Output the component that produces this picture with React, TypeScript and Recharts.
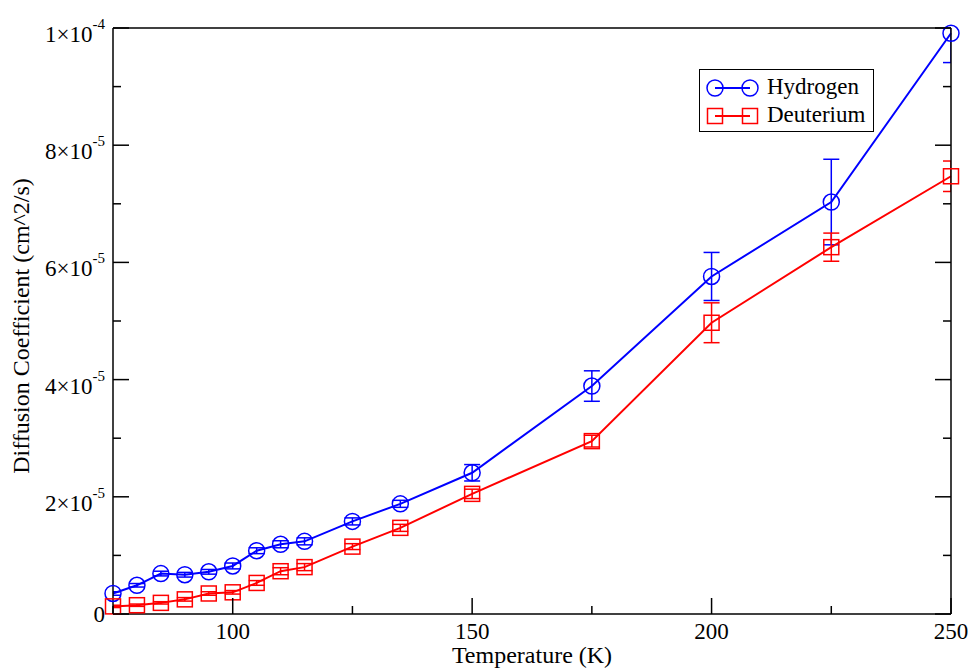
import React from 'react'
import { LineChart, Line, XAxis, YAxis, ErrorBar, Legend } from 'recharts'

// Temperature (K)
const temperatures = [75, 80, 85, 90, 95, 100, 105, 110, 115, 125, 135, 150, 175, 200, 225, 250]
// Diffusion coefficients in units of 1e-6 cm^2/s
const hydrogen = [3.5, 4.9, 6.9, 6.7, 7.2, 8.2, 10.8, 11.9, 12.4, 15.8, 18.8, 24.1, 38.9, 57.6, 70.3, 99.1]
const hydrogenErr = [0.3, 0.3, 0.4, 0.4, 0.4, 0.5, 0.5, 0.6, 0.6, 0.6, 0.6, 1.4, 2.6, 4.1, 7.3, 5.0]
const deuterium = [1.3, 1.5, 1.9, 2.5, 3.5, 3.7, 5.3, 7.3, 8.0, 11.5, 14.7, 20.5, 29.5, 49.7, 62.6, 74.7]
const deuteriumErr = [0.2, 0.2, 0.2, 0.3, 0.3, 0.3, 0.4, 0.6, 0.6, 0.5, 0.6, 0.8, 1.0, 3.4, 2.4, 2.6]

const xTicks = [75, 100, 125, 150, 175, 200, 225, 250]
const yTicks = [0, 10, 20, 30, 40, 50, 60, 70, 80, 90, 100]

const data = temperatures.map((t, i) => ({
  t,
  hydrogen: hydrogen[i],
  hydrogenErr: hydrogenErr[i],
  deuterium: deuterium[i],
  deuteriumErr: deuteriumErr[i],
}))

const W = 973
const H = 670
const MARGIN = { top: 27, right: 21, bottom: 55, left: 112 }
// plot box (axes are 1px thick boxes)
const PLOT = {
  x: MARGIN.left + 1,
  y: MARGIN.top + 1,
  width: W - MARGIN.left - MARGIN.right - 2,
  height: H - MARGIN.top - MARGIN.bottom - 2,
}

const FONT = '"Liberation Serif", "Times New Roman", serif'
const BLUE = '#0000ff'
const RED = '#ff0000'

const BottomTick = (props: any) => {
  const { x, y, payload } = props
  const major = payload.value % 50 === 0
  return (
    <g>
      <line x1={x} y1={y} x2={x} y2={y - (major ? 16 : 8)} stroke="#000" strokeWidth={1.5} />
      {major && (
        <text x={x} y={y + 25} textAnchor="middle" fontFamily={FONT} fontSize={23} fill="#000">
          {payload.value}
        </text>
      )}
    </g>
  )
}

const TopTick = (props: any) => {
  const { x, y, payload } = props
  const major = payload.value % 50 === 0
  return <line x1={x} y1={y} x2={x} y2={y + (major ? 16 : 8)} stroke="#000" strokeWidth={1.5} />
}

const LeftTick = (props: any) => {
  const { x, y, payload } = props
  const v = payload.value
  const major = v % 20 === 0
  let label: React.ReactNode = null
  if (major) {
    if (v === 0) {
      label = (
        <text x={x - 8} y={y + 8} textAnchor="end" fontFamily={FONT} fontSize={23} fill="#000">0</text>
      )
    } else {
      const mant = v === 100 ? 1 : v / 10
      const exp = v === 100 ? '-4' : '-5'
      label = (
        <text x={x - 8} y={y + 14} textAnchor="end" fontFamily={FONT} fontSize={23} fill="#000">
          <tspan>{mant}×10</tspan>
          <tspan dy={-13} fontSize={15}>{exp}</tspan>
        </text>
      )
    }
  }
  return (
    <g>
      <line x1={x} y1={y} x2={x + (major ? 16 : 8)} y2={y} stroke="#000" strokeWidth={1.5} />
      {label}
    </g>
  )
}

const RightTick = (props: any) => {
  const { x, y, payload } = props
  const major = payload.value % 20 === 0
  return <line x1={x} y1={y} x2={x - (major ? 16 : 8)} y2={y} stroke="#000" strokeWidth={1.5} />
}

const circleDot = (props: any) => {
  const { cx, cy, index } = props
  if (cx == null || cy == null) return <g key={`h-${index}`} />
  return <circle key={`h-${index}`} cx={cx} cy={cy} r={8} fill="none" stroke={BLUE} strokeWidth={1.5} />
}

const squareDot = (props: any) => {
  const { cx, cy, index } = props
  if (cx == null || cy == null) return <g key={`d-${index}`} />
  return (
    <rect key={`d-${index}`} x={cx - 7.5} y={cy - 7.5} width={15} height={15} fill="none" stroke={RED} strokeWidth={1.5} />
  )
}

const renderLegend = (props: any) => {
  const seen = new Set<string>()
  const items = (props.payload ?? [])
    .filter((it: any) => it.type !== 'none' && !seen.has(it.dataKey) && seen.add(it.dataKey))
    .sort((a: any, b: any) => (a.dataKey === 'hydrogen' ? -1 : b.dataKey === 'hydrogen' ? 1 : 0))
  return (
    <div style={{ width: 173, height: 61, border: '1.5px solid #000', background: '#fff' }}>
      <svg width={173} height={61}>
        {items.map((item: any, i: number) => {
          const cy = 18 + i * 28
          const isH = item.dataKey === 'hydrogen'
          const color = isH ? BLUE : RED
          return (
            <g key={item.dataKey}>
              <line x1={15} y1={cy} x2={50} y2={cy} stroke={color} strokeWidth={2} />
              {isH ? (
                <>
                  <circle cx={15} cy={cy} r={8} fill="none" stroke={color} strokeWidth={1.5} />
                  <circle cx={50} cy={cy} r={8} fill="none" stroke={color} strokeWidth={1.5} />
                </>
              ) : (
                <>
                  <rect x={7.5} y={cy - 7.5} width={15} height={15} fill="none" stroke={color} strokeWidth={1.5} />
                  <rect x={42.5} y={cy - 7.5} width={15} height={15} fill="none" stroke={color} strokeWidth={1.5} />
                </>
              )}
              <text x={67} y={cy + 6} fontFamily={FONT} fontSize={23} fill="#000">{item.value}</text>
            </g>
          )
        })}
      </svg>
    </div>
  )
}

export default function App() {
  return (
    <div style={{ position: 'absolute', left: 0, top: 0, background: '#fff' }}>
      <LineChart width={W} height={H} data={data} margin={MARGIN}>
        <defs>
          <clipPath id="plot-area-clip">
            <rect x={PLOT.x} y={PLOT.y} width={PLOT.width} height={PLOT.height} />
          </clipPath>
        </defs>
        <XAxis
          dataKey="t"
          type="number"
          domain={[75, 250]}
          ticks={xTicks}
          interval={0}
          height={1}
          tickSize={0}
          tickMargin={0}
          tickLine={false}
          axisLine={{ stroke: '#000', strokeWidth: 1.5 }}
          tick={BottomTick}
          label={{
            content: () => (
              <text x={PLOT.x + PLOT.width / 2} y={PLOT.y + PLOT.height + 49} textAnchor="middle" fontFamily={FONT} fontSize={24} fill="#000">
                Temperature (K)
              </text>
            ),
          }}
        />
        <XAxis
          xAxisId="top"
          orientation="top"
          type="number"
          domain={[75, 250]}
          ticks={xTicks}
          interval={0}
          allowDataOverflow
          height={1}
          tickSize={0}
          tickMargin={0}
          tickLine={false}
          axisLine={{ stroke: '#000', strokeWidth: 1.5 }}
          tick={TopTick}
        />
        <YAxis
          type="number"
          domain={[0, 100]}
          ticks={yTicks}
          interval={0}
          allowDataOverflow
          width={1}
          tickSize={0}
          tickMargin={0}
          tickLine={false}
          axisLine={{ stroke: '#000', strokeWidth: 1.5 }}
          tick={LeftTick}
          label={{
            content: () => {
              const cx = 29
              const cy = PLOT.y + PLOT.height / 2 + 5
              return (
                <text x={cx} y={cy} transform={`rotate(-90 ${cx} ${cy})`} textAnchor="middle" fontFamily={FONT} fontSize={24} fill="#000">
                  Diffusion Coefficient (cm^2/s)
                </text>
              )
            },
          }}
        />
        {/* right frame axis; also carries the markers so they are not clipped */}
        <YAxis
          yAxisId="right"
          orientation="right"
          type="number"
          domain={[0, 100]}
          ticks={yTicks}
          interval={0}
          width={1}
          tickSize={0}
          tickMargin={0}
          tickLine={false}
          axisLine={{ stroke: '#000', strokeWidth: 1.5 }}
          tick={RightTick}
        />
        <Legend
          layout="vertical"
          align="center"
          verticalAlign="middle"
          content={renderLegend}
          wrapperStyle={{ left: 699, top: 69, width: 175, height: 63 }}
        />
        <Line
          name="Hydrogen"
          dataKey="hydrogen"
          type="linear"
          stroke={BLUE}
          strokeWidth={2}
          dot={false}
          activeDot={false}
          isAnimationActive={false}
        >
          <ErrorBar
            dataKey="hydrogenErr"
            width={8}
            stroke={BLUE}
            strokeWidth={1.5}
            direction="y"
            clipPath="url(#plot-area-clip)"
            isAnimationActive={false}
          />
        </Line>
        <Line
          name="Deuterium"
          dataKey="deuterium"
          type="linear"
          stroke={RED}
          strokeWidth={2}
          dot={false}
          activeDot={false}
          isAnimationActive={false}
        >
          <ErrorBar
            dataKey="deuteriumErr"
            width={8}
            stroke={RED}
            strokeWidth={1.5}
            direction="y"
            clipPath="url(#plot-area-clip)"
            isAnimationActive={false}
          />
        </Line>
        <Line
          yAxisId="right"
          dataKey="hydrogen"
          stroke="none"
          dot={circleDot}
          activeDot={false}
          legendType="none"
          isAnimationActive={false}
        />
        <Line
          yAxisId="right"
          dataKey="deuterium"
          stroke="none"
          dot={squareDot}
          activeDot={false}
          legendType="none"
          isAnimationActive={false}
        />
      </LineChart>
    </div>
  )
}
